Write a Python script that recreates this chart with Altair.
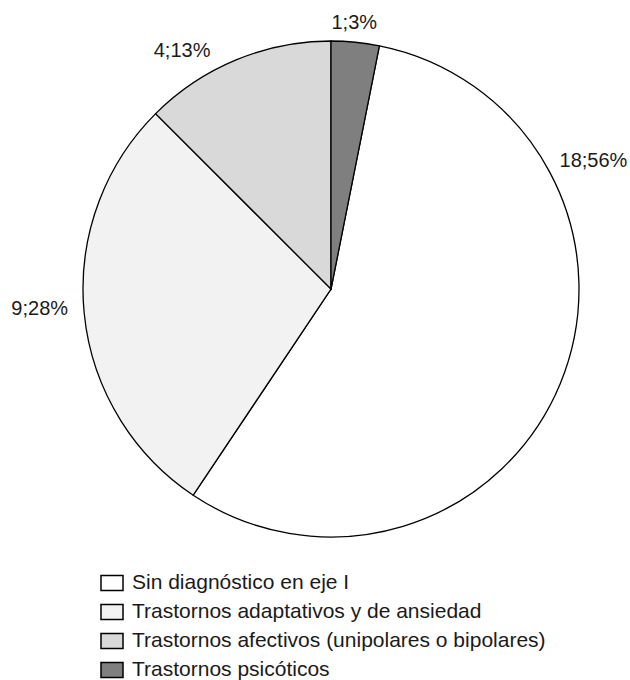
import math
import altair as alt
import pandas as pd

# ---- data ----
categories = [
    "Sin diagnóstico en eje I",
    "Trastornos adaptativos y de ansiedad",
    "Trastornos afectivos (unipolares o bipolares)",
    "Trastornos psicóticos",
]
counts = [18, 9, 4, 1]
percents = [56, 28, 13, 3]
slice_order = [1, 2, 3, 0]  # clockwise from 12 o'clock
colors = ["#ffffff", "#f2f2f2", "#d9d9d9", "#7f7f7f"]

# ---- label placement (style) ----
label_angle = [64, 266, 328, 5]
label_radius = [292, 292, 281, 267]

df = pd.DataFrame({
    "cat": categories,
    "n": counts,
    "ord": slice_order,
    "label": [f"{c};{p}%" for c, p in zip(counts, percents)],
    "lang": label_angle,
    "lr": label_radius,
})

CX, CY, R = 331, 289, 248
FONT = "Liberation Sans"

base = alt.Chart(df)

pie = base.mark_arc(outerRadius=R, stroke="#000000", strokeWidth=1.3).encode(
    theta=alt.Theta("n:Q", stack=True),
    order=alt.Order("ord:Q"),
    color=alt.Color(
        "cat:N",
        scale=alt.Scale(domain=categories, range=colors),
        sort=categories,
        legend=alt.Legend(
            title=None,
            orient="none",
            legendX=100,
            legendY=571,
            direction="vertical",
            symbolType="M-1,-0.68H1V0.68H-1Z",
            symbolSize=484,
            symbolStrokeColor="#000000",
            symbolStrokeWidth=1.5,
            labelFont=FONT,
            labelFontSize=21,
            labelColor="#1a1a1a",
            labelOffset=8,
            rowPadding=6,
            padding=0,
            labelLimit=600,
        ),
    ),
    x=alt.value(CX),
    y=alt.value(CY),
)

labels = base.mark_text(font=FONT, fontSize=20, color="#1a1a1a", align="center", baseline="middle").encode(
    theta=alt.Theta("lang:Q", stack=None, scale=alt.Scale(domain=[0, 360], range=[0, 2 * math.pi])),
    radius=alt.Radius("lr:Q", scale=None),
    text="label:N",
    x=alt.value(CX),
    y=alt.value(CY),
)

chart = (
    alt.layer(pie, labels)
    .resolve_scale(theta="independent", radius="independent")
    .properties(width=630, height=680, padding=0, autosize="none", background="#ffffff")
    .configure_view(stroke=None)
)

chart.save("out.html", embed_options={"renderer": "svg", "actions": False})
